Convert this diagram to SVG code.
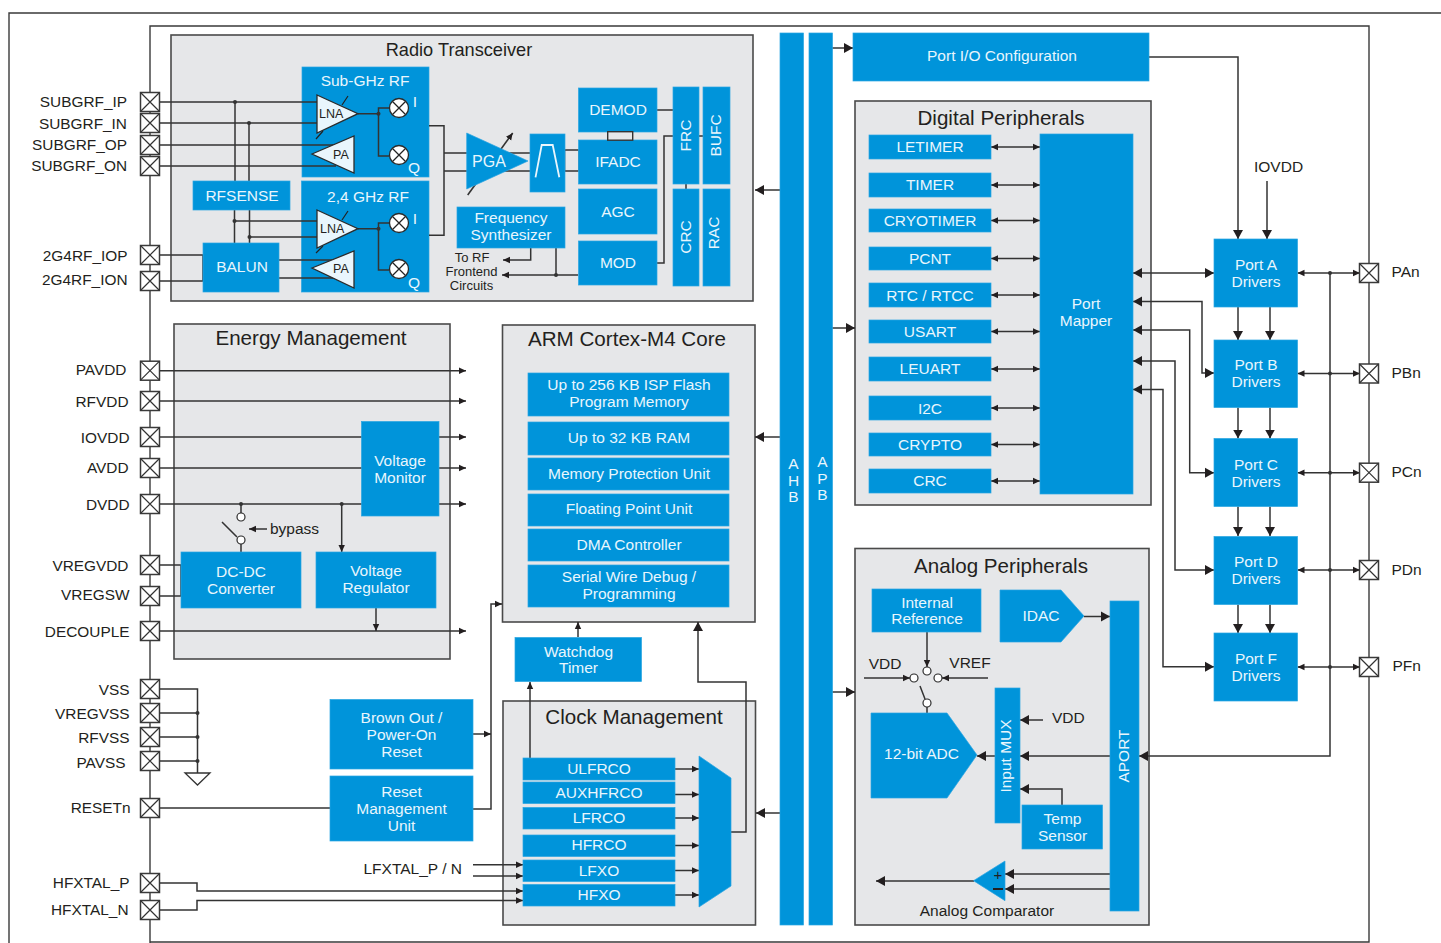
<svg xmlns="http://www.w3.org/2000/svg" xmlns:xlink="http://www.w3.org/1999/xlink" width="1441" height="943" viewBox="0 0 1441 943">
<style>
text{font-family:"Liberation Sans",Arial,sans-serif}
.bg{fill:#fff}
.frame{fill:none;stroke:#3a3a3a;stroke-width:1.4}
.panel{fill:#e6e7e9;stroke:#4a4a4a;stroke-width:1.6}
.b{fill:#0094da;stroke:#29a5e2;stroke-width:.7}
.t{fill:#e9f6fd;font-size:15.5px;text-anchor:middle}
.h{fill:#231f20;font-size:20.6px;text-anchor:middle}
.p{fill:#231f20;font-size:15.4px;text-anchor:end}
.s{fill:#231f20;font-size:15.5px}
.c{fill:none;stroke:#333;stroke-width:1.5}
.d{fill:#333}
.amp{fill:#e9f6fd;stroke:#2b2b2b;stroke-width:1.3}
.pad{fill:#fff;stroke:#3a3a3a;stroke-width:1.5}
.open{fill:#fff;stroke:#2b2b2b;stroke-width:1.2}
.wl{fill:none;stroke:#e9f6fd;stroke-width:1.8}
.a{marker-end:url(#as)}
.A{marker-end:url(#al)}
.aa{marker-start:url(#as);marker-end:url(#as)}
.AA{marker-start:url(#al);marker-end:url(#al)}
</style>
<defs>
<marker id="as" markerUnits="userSpaceOnUse" markerWidth="8" markerHeight="8" refX="7" refY="4" orient="auto-start-reverse"><path d="M0 .8L7 4L0 7.2z" fill="#231f20"/></marker>
<marker id="al" markerUnits="userSpaceOnUse" markerWidth="10" markerHeight="11" refX="9" refY="5.5" orient="auto-start-reverse"><path d="M0 .5L9 5.5L0 10.5z" fill="#231f20"/></marker>
<g id="x"><rect class="pad" x="-9.5" y="-9.5" width="19" height="19"/><path class="c" d="M-9.5-9.5L9.5 9.5M9.5-9.5L-9.5 9.5" style="stroke-width:1.2"/></g>
<g id="m"><circle r="9.5" fill="#fff" stroke="#2b2b2b" stroke-width="1.3"/><path d="M-6.5-6.5L6.5 6.5M6.5-6.5L-6.5 6.5" stroke="#222" stroke-width="1.3"/></g>
</defs>
<rect class="bg" width="1441" height="943"/>
<path class="frame" d="M1441 13H9V943"/>
<path class="frame" d="M150 943V26H1369V942H150"/>

<g id="panels">
<rect id="radio-panel" class="panel" x="171" y="35" width="582" height="266"/>
<rect id="energy-panel" class="panel" x="174" y="324" width="276" height="335"/>
<rect id="arm-panel" class="panel" x="502.500" y="325" width="252.500" height="297"/>
<rect id="clock-panel" class="panel" x="503" y="701" width="252.500" height="224"/>
<rect id="digital-panel" class="panel" x="855" y="101" width="296" height="404"/>
<rect id="analog-panel" class="panel" x="855" y="548.500" width="294" height="376.500"/>
<text class="h" x="459" y="56" style="font-size:18.200px">Radio Transceiver</text>
<text class="h" x="311" y="345">Energy Management</text>
<text class="h" x="627" y="346">ARM Cortex-M4 Core</text>
<text class="h" x="634" y="724">Clock Management</text>
<text class="h" x="1001" y="125">Digital Peripherals</text>
<text class="h" x="1001" y="573">Analog Peripherals</text>
</g>

<g id="rf-sub"><rect class="b" x="302" y="67" width="127" height="110"/><text class="t" x="365" y="86">Sub-GHz RF</text><text class="t" x="415" y="107">I</text><text class="t" x="414" y="173">Q</text></g>
<g id="rf-24"><rect class="b" x="301.500" y="181" width="127.500" height="111"/><text class="t" x="368" y="202">2,4 GHz RF</text><text class="t" x="415" y="224">I</text><text class="t" x="414" y="288">Q</text></g>

<g id="connectors">
<path class="c" d="M160 102H318M160 123H318M160 145H336M160 166H336"/>
<path class="c" d="M235 102V181M249 123V181M234.500 210V243M249.500 210V243M234.500 221H318M249.500 237H318"/>
<path class="c" d="M160 255H203V281H160M279 260H336M279 278H336"/>
<path class="c" d="M358 113.700H378.500M389 108H378.500V156H389M358 228.700H378.500M389 223H378.500V270H389"/>
<path class="c" d="M342 105L348 96M316 139L323 131M342 220L348 211M316 253L323 246" style="stroke-width:1.2;stroke:#222"/>
<path class="c" d="M429 125.700H444V235.300H429M444 153H530.500M444 171H530.500"/>
<path class="c a" d="M467.700 195L512.700 133" style="stroke-width:1.6"/>
<path class="c" d="M565 150H579M565 171H579"/>
<path class="c" d="M564.500 150V171M579 150V171"/>
<path class="c" d="M657 110H673M657 263H664V136H673M699 136H703M686 184V189"/>
<path class="c a" d="M530.700 248V260H503"/>
<path class="c a" d="M578 275H502"/>
<path class="c" d="M556 248V275"/>
<path class="c A" d="M780 190H755"/>
<path class="c A" d="M832 48H853"/>
<path class="c A" d="M832 328H855"/>
<path class="c A" d="M832 692H855"/>
<path class="c A" d="M780 437H755"/>
<path class="c A" d="M780 813H756"/>
<path class="c a" d="M160 370.700H466"/>
<path class="c a" d="M160 401H466"/>
<path class="c a" d="M160 437H466"/>
<path class="c a" d="M160 468H466"/>
<path class="c a" d="M160 504H466"/>
<path class="c a" d="M160 631H466"/>
<path class="c" d="M160 565H181V596H160"/>
<path class="c" d="M241 504V513M241 544V552M222 522L237 537"/>
<path class="c a" d="M267 529H249"/>
<path class="c a" d="M341.700 504V552"/>
<path class="c a" d="M376 608V631"/>
<path class="c" d="M160 689H197.500V773M160 713H197.500M160 737H197.500M160 761H197.500"/>
<path d="M185 773H210L197.500 785z" fill="#fff" stroke="#333" stroke-width="1.3"/>
<path class="c" d="M160 808H330"/>
<path class="c a" d="M473 809H491V604H502"/>
<path class="c a" d="M473 734H491"/>
<path class="c a" d="M473 864.700H523"/>
<path class="c a" d="M473 876H523"/>
<path class="c a" d="M160 883H197V891H523"/>
<path class="c a" d="M160 910H197V900.500H523"/>
<path class="c a" d="M675 769H699"/>
<path class="c a" d="M675 794.500H699"/>
<path class="c a" d="M675 818H699"/>
<path class="c a" d="M675 845.500H699"/>
<path class="c a" d="M675 870.500H699"/>
<path class="c a" d="M675 895H699"/>
<path class="c A" d="M731 832H746V682H698V622"/>
<path class="c a" d="M530 758V682"/>
<path class="c a" d="M578 637V622"/>
<path class="c aa" d="M991 147H1040"/>
<path class="c aa" d="M991 185H1040"/>
<path class="c aa" d="M991 220.500H1040"/>
<path class="c aa" d="M991 258.500H1040"/>
<path class="c aa" d="M991 295H1040"/>
<path class="c aa" d="M991 331.500H1040"/>
<path class="c aa" d="M991 369H1040"/>
<path class="c aa" d="M991 408H1040"/>
<path class="c aa" d="M991 444.500H1040"/>
<path class="c aa" d="M991 481H1040"/>
<path class="c A" d="M1149 57H1238V239"/>
<path class="c A" d="M1267 181V239"/>
<path class="c A" d="M1238 307V340"/>
<path class="c A" d="M1270 307V340"/>
<path class="c A" d="M1238 407.500V438.500"/>
<path class="c A" d="M1270 407.500V438.500"/>
<path class="c A" d="M1238 506.500V536"/>
<path class="c A" d="M1270 506.500V536"/>
<path class="c A" d="M1238 604.500V633"/>
<path class="c A" d="M1270 604.500V633"/>
<path class="c AA" d="M1133 273H1214"/>
<path class="c AA" d="M1133 301.500H1202V373H1214"/>
<path class="c AA" d="M1133 330H1189.700V472.700H1214"/>
<path class="c AA" d="M1133 361H1175V570H1214"/>
<path class="c AA" d="M1133 389.500H1163V666.700H1214"/>
<path class="c aa" d="M1297.500 273H1360"/>
<path class="c aa" d="M1297.500 373.500H1360"/>
<path class="c aa" d="M1297.500 472.700H1360"/>
<path class="c aa" d="M1297.500 570H1360"/>
<path class="c aa" d="M1297.500 667H1360"/>
<path class="c A" d="M1330 273V756H1139"/>
<path class="c a" d="M927 632V667"/>
<path class="c a" d="M864 678H910"/>
<path class="c a" d="M988 678H942"/>
<path class="c" d="M920 686L925 699M927 707V713"/>
<path class="c A" d="M1084 616.500H1110"/>
<path class="c A" d="M995 756H977"/>
<path class="c A" d="M1110 756H1020"/>
<path class="c A" d="M1043 720H1020"/>
<path class="c A" d="M1062 805V789H1020"/>
<path class="c A" d="M1110 874H1005"/>
<path class="c A" d="M1110 889H1005"/>
<path class="c A" d="M974 881H876"/>
<g class="d"><circle cx="235" cy="102" r="2"/><circle cx="249" cy="123" r="2"/><circle cx="234.500" cy="221" r="2"/><circle cx="249.500" cy="237" r="2"/><circle cx="378.500" cy="113.700" r="2"/><circle cx="378.500" cy="228.700" r="2"/><circle cx="556" cy="275" r="2"/><circle cx="241" cy="504" r="2"/><circle cx="341.700" cy="504" r="2"/><circle cx="197.500" cy="713" r="2"/><circle cx="197.500" cy="737" r="2"/><circle cx="197.500" cy="761" r="2"/><circle cx="1330" cy="273" r="2"/><circle cx="1330" cy="373.500" r="2"/><circle cx="1330" cy="472.700" r="2"/><circle cx="1330" cy="570" r="2"/><circle cx="1330" cy="667" r="2"/></g>
</g>

<g id="voltage-monitor"><rect class="b" x="361.500" y="421.500" width="77.500" height="94.500"/><text class="t" x="400" y="466">Voltage<tspan x="400" dy="17">Monitor</tspan></text></g>

<g id="radio-nodes">
<g id="lna1"><path class="amp" d="M317 95L358 113.700L317 133z"/><text x="319" y="118" style="font-size:12.500px;fill:#231f20">LNA</text></g>
<g id="pa1"><path class="amp" d="M312 154L354 136V173z"/><text x="333" y="159" style="font-size:12.500px;fill:#231f20">PA</text></g>
<g id="lna2"><path class="amp" d="M317 210L358 228.700L317 248z"/><text x="320" y="233" style="font-size:12.500px;fill:#231f20">LNA</text></g>
<g id="pa2"><path class="amp" d="M312 268L354 251V288z"/><text x="333" y="273" style="font-size:12.500px;fill:#231f20">PA</text></g>
<use href="#m" x="399" y="108"/><use href="#m" x="399" y="155"/><use href="#m" x="399" y="223"/><use href="#m" x="399" y="269"/>
<g id="rfsense"><rect class="b" x="193" y="181" width="97" height="29"/><text class="t" x="242" y="201">RFSENSE</text></g>
<g id="balun"><rect class="b" x="203" y="243" width="76" height="49"/><text class="t" x="242" y="272">BALUN</text></g>
<g id="pga"><path class="b" d="M466.700 133L528 161L466.700 189z"/><text class="t" x="489" y="167" style="font-size:16px">PGA</text></g>
<g id="filter"><rect class="b" x="530" y="134" width="35" height="58"/><path class="wl" d="M535.500 177.300L541.700 145H552.700L559.300 177.300"/></g>
<g id="demod"><rect class="b" x="578.500" y="88" width="78.500" height="44"/><text class="t" x="618" y="115">DEMOD</text></g>
<g id="ifadc"><rect class="b" x="578.500" y="140" width="78.500" height="44"/><text class="t" x="618" y="167">IFADC</text></g>
<rect x="607.700" y="131.700" width="25" height="8.500" fill="#e6e7e9" stroke="#333" stroke-width="1.400"/>
<g id="agc"><rect class="b" x="578.500" y="189" width="78.500" height="45"/><text class="t" x="618" y="217">AGC</text></g>
<g id="mod"><rect class="b" x="578.500" y="241" width="78.500" height="44"/><text class="t" x="618" y="268">MOD</text></g>
<g id="frc"><rect class="b" x="673" y="87" width="26" height="97"/><text class="t" transform="translate(691 135.500) rotate(-90)">FRC</text></g>
<g id="bufc"><rect class="b" x="703" y="87" width="27" height="97"/><text class="t" transform="translate(721 135.500) rotate(-90)">BUFC</text></g>
<g id="crc-r"><rect class="b" x="673" y="189" width="26" height="97"/><text class="t" transform="translate(691 237) rotate(-90)">CRC</text></g>
<g id="rac"><rect class="b" x="703" y="189" width="27" height="97"/><text class="t" transform="translate(719 233) rotate(-90)">RAC</text></g>
<g id="synth"><rect class="b" x="457" y="207" width="108" height="41"/><text class="t" x="511" y="223">Frequency<tspan x="511" dy="17">Synthesizer</tspan></text></g>
<text class="s" x="472" y="262" style="font-size:13px;text-anchor:middle">To RF<tspan x="471.500" dy="14">Frontend</tspan><tspan x="471.500" dy="14">Circuits</tspan></text>
</g>

<g id="energy-nodes">
<g id="dcdc"><rect class="b" x="181" y="552" width="120" height="56"/><text class="t" x="241" y="577">DC-DC<tspan x="241" dy="17">Converter</tspan></text></g>
<g id="vreg"><rect class="b" x="316" y="552" width="120" height="56"/><text class="t" x="376" y="576">Voltage<tspan x="376" dy="17">Regulator</tspan></text></g>
<circle class="open" cx="241" cy="517" r="4"/><circle class="open" cx="241" cy="540" r="4"/>
<text class="s" x="270" y="534">bypass</text>
</g>

<g id="arm-nodes">
<g id="flash"><rect class="b" x="528" y="373" width="201" height="43"/><text class="t" x="629" y="390">Up to 256 KB ISP Flash<tspan x="629" dy="17">Program Memory</tspan></text></g>
<g id="ram"><rect class="b" x="528" y="422" width="201" height="33"/><text class="t" x="629" y="443">Up to 32 KB RAM</text></g>
<g id="mpu"><rect class="b" x="528" y="458" width="201" height="32"/><text class="t" x="629" y="479">Memory Protection Unit</text></g>
<g id="fpu"><rect class="b" x="528" y="494" width="201" height="32"/><text class="t" x="629" y="514">Floating Point Unit</text></g>
<g id="dma"><rect class="b" x="528" y="529" width="201" height="32"/><text class="t" x="629" y="550">DMA Controller</text></g>
<g id="swd"><rect class="b" x="528" y="565" width="201" height="42"/><text class="t" x="629" y="582">Serial Wire Debug /<tspan x="629" dy="17">Programming</tspan></text></g>
<g id="watchdog"><rect class="b" x="515" y="637.500" width="126.500" height="44"/><text class="t" x="578.500" y="657">Watchdog<tspan x="578.500" dy="16">Timer</tspan></text></g>
</g>

<g id="reset-nodes">
<g id="brownout"><rect class="b" x="330" y="699.500" width="143" height="69.500"/><text class="t" x="401.500" y="723">Brown Out /<tspan x="401.500" dy="17">Power-On</tspan><tspan x="401.500" dy="17">Reset</tspan></text></g>
<g id="rmu"><rect class="b" x="330" y="776" width="143" height="65"/><text class="t" x="401.500" y="797">Reset<tspan x="401.500" dy="17">Management</tspan><tspan x="401.500" dy="17">Unit</tspan></text></g>
</g>

<g id="clock-nodes">
<g id="ulfrco"><rect class="b" x="523" y="758" width="152" height="22"/><text class="t" x="599" y="774">ULFRCO</text></g>
<g id="auxhfrco"><rect class="b" x="523" y="782" width="152" height="21.500"/><text class="t" x="599" y="798">AUXHFRCO</text></g>
<g id="lfrco"><rect class="b" x="523" y="807.500" width="152" height="21.500"/><text class="t" x="599" y="823">LFRCO</text></g>
<g id="hfrco"><rect class="b" x="523" y="835" width="152" height="21.500"/><text class="t" x="599" y="850">HFRCO</text></g>
<g id="lfxo"><rect class="b" x="523" y="860" width="152" height="21.500"/><text class="t" x="599" y="876">LFXO</text></g>
<g id="hfxo"><rect class="b" x="523" y="884.500" width="152" height="21.500"/><text class="t" x="599" y="900">HFXO</text></g>
<path id="mux" class="b" d="M699 756L731 778V886L699 907z"/>
<text class="s" x="462" y="874" style="text-anchor:end">LFXTAL_P / N</text>
</g>

<g id="buses">
<g id="ahb"><rect class="b" x="780" y="33" width="23.500" height="892"/><text class="t" x="793.500" y="469">A<tspan x="793.500" dy="16.500">H</tspan><tspan x="793.500" dy="16.500">B</tspan></text></g>
<g id="apb"><rect class="b" x="809" y="33" width="23.500" height="892"/><text class="t" x="822.500" y="467">A<tspan x="822.500" dy="16.500">P</tspan><tspan x="822.500" dy="16.500">B</tspan></text></g>
</g>

<g id="port-io"><rect class="b" x="853" y="33" width="296" height="48"/><text class="t" x="1002" y="61">Port I/O Configuration</text></g>

<g id="digital-nodes">
<g id="letimer"><rect class="b" x="869" y="135" width="122" height="24"/><text class="t" x="930" y="152">LETIMER</text></g>
<g id="timer"><rect class="b" x="869" y="173" width="122" height="24"/><text class="t" x="930" y="190">TIMER</text></g>
<g id="cryotimer"><rect class="b" x="869" y="209" width="122" height="23"/><text class="t" x="930" y="226">CRYOTIMER</text></g>
<g id="pcnt"><rect class="b" x="869" y="247" width="122" height="23"/><text class="t" x="930" y="264">PCNT</text></g>
<g id="rtc"><rect class="b" x="869" y="283" width="122" height="24"/><text class="t" x="930" y="301">RTC / RTCC</text></g>
<g id="usart"><rect class="b" x="869" y="320" width="122" height="23"/><text class="t" x="930" y="337">USART</text></g>
<g id="leuart"><rect class="b" x="869" y="357" width="122" height="24"/><text class="t" x="930" y="374">LEUART</text></g>
<g id="i2c"><rect class="b" x="869" y="396" width="122" height="24"/><text class="t" x="930" y="414">I2C</text></g>
<g id="crypto"><rect class="b" x="869" y="433" width="122" height="23"/><text class="t" x="930" y="450">CRYPTO</text></g>
<g id="crc-d"><rect class="b" x="869" y="469" width="122" height="24"/><text class="t" x="930" y="486">CRC</text></g>
<g id="port-mapper"><rect class="b" x="1040" y="134" width="93" height="360"/><text class="t" x="1086" y="309">Port<tspan x="1086" dy="17">Mapper</tspan></text></g>
</g>

<g id="port-nodes">
<g id="port-a"><rect class="b" x="1214" y="239" width="83.500" height="68"/><text class="t" x="1256" y="270">Port A<tspan x="1256" dy="17">Drivers</tspan></text></g>
<g id="port-b"><rect class="b" x="1214" y="340" width="83.500" height="67.500"/><text class="t" x="1256" y="370">Port B<tspan x="1256" dy="17">Drivers</tspan></text></g>
<g id="port-c"><rect class="b" x="1214" y="438.500" width="83.500" height="68"/><text class="t" x="1256" y="470">Port C<tspan x="1256" dy="17">Drivers</tspan></text></g>
<g id="port-d"><rect class="b" x="1214" y="536.500" width="83.500" height="68"/><text class="t" x="1256" y="567">Port D<tspan x="1256" dy="17">Drivers</tspan></text></g>
<g id="port-f"><rect class="b" x="1214" y="633" width="83.500" height="68"/><text class="t" x="1256" y="664">Port F<tspan x="1256" dy="17">Drivers</tspan></text></g>
<text class="s" x="1254" y="172">IOVDD</text>
</g>

<g id="analog-nodes">
<g id="intref"><rect class="b" x="872" y="589" width="109" height="43"/><text class="t" x="927" y="608">Internal<tspan x="927" dy="16">Reference</tspan></text></g>
<g id="idac"><path class="b" d="M1000 590H1061L1084 616L1061 642H1000z"/><text class="t" x="1041" y="621">IDAC</text></g>
<g id="aport"><rect class="b" x="1110" y="601" width="29" height="310"/><text class="t" transform="translate(1129 756) rotate(-90)">APORT</text></g>
<circle class="open" cx="914" cy="678" r="4"/><circle class="open" cx="927" cy="671" r="4"/><circle class="open" cx="938" cy="678" r="4"/><circle class="open" cx="927" cy="703" r="4"/>
<text class="s" x="885" y="669" style="text-anchor:middle">VDD</text><text class="s" x="970" y="668" style="text-anchor:middle">VREF</text>
<g id="adc"><path class="b" d="M871 713H947L977 755L947 798H871z"/><text class="t" x="921.500" y="759">12-bit ADC</text></g>
<g id="inmux"><rect class="b" x="995" y="688" width="25" height="135"/><text class="t" transform="translate(1011 756) rotate(-90)">Input MUX</text></g>
<text class="s" x="1052" y="723">VDD</text>
<g id="temp"><rect class="b" x="1022" y="805" width="80.500" height="44"/><text class="t" x="1062.500" y="824">Temp<tspan x="1062.500" dy="16.500">Sensor</tspan></text></g>
<g id="acmp"><path class="b" d="M973.500 880.700L1005 861V900.700z"/><text x="998" y="880" style="font-size:15px;fill:#231f20;text-anchor:middle">+</text><path d="M993 889H1003" stroke="#231f20" stroke-width="2"/></g>
<text class="s" x="987" y="916" style="text-anchor:middle">Analog Comparator</text>
</g>

<g id="pins">
<use href="#x" x="150" y="102"/><use href="#x" x="150" y="123"/><use href="#x" x="150" y="145"/><use href="#x" x="150" y="166"/><use href="#x" x="150" y="255"/><use href="#x" x="150" y="281"/>
<use href="#x" x="150" y="370.700"/><use href="#x" x="150" y="401"/><use href="#x" x="150" y="437"/><use href="#x" x="150" y="468"/><use href="#x" x="150" y="504"/><use href="#x" x="150" y="565"/><use href="#x" x="150" y="596"/><use href="#x" x="150" y="631"/>
<use href="#x" x="150" y="689"/><use href="#x" x="150" y="713"/><use href="#x" x="150" y="737"/><use href="#x" x="150" y="761"/><use href="#x" x="150" y="808"/><use href="#x" x="150" y="883"/><use href="#x" x="150" y="910"/>
<use href="#x" x="1369" y="273"/><use href="#x" x="1369" y="373.500"/><use href="#x" x="1369" y="472.700"/><use href="#x" x="1369" y="570"/><use href="#x" x="1369" y="667"/>
<text class="p" x="127" y="107">SUBGRF_IP</text><text class="p" x="127" y="129">SUBGRF_IN</text><text class="p" x="127" y="150">SUBGRF_OP</text><text class="p" x="127" y="171">SUBGRF_ON</text>
<text class="p" x="127.500" y="261">2G4RF_IOP</text><text class="p" x="127.500" y="285">2G4RF_ION</text>
<text class="p" x="126.500" y="375">PAVDD</text><text class="p" x="128.500" y="406.500">RFVDD</text><text class="p" x="129.500" y="443">IOVDD</text><text class="p" x="128.500" y="473">AVDD</text><text class="p" x="129.500" y="509.500">DVDD</text>
<text class="p" x="128.500" y="571">VREGVDD</text><text class="p" x="129.500" y="600">VREGSW</text><text class="p" x="129.500" y="637">DECOUPLE</text>
<text class="p" x="129.500" y="695">VSS</text><text class="p" x="129.500" y="719">VREGVSS</text><text class="p" x="129.500" y="742.500">RFVSS</text><text class="p" x="125.500" y="768">PAVSS</text><text class="p" x="130.500" y="813">RESETn</text>
<text class="p" x="129.500" y="888">HFXTAL_P</text><text class="p" x="128.500" y="915">HFXTAL_N</text>
<g style="font-size:15.5px;fill:#231f20"><text x="1391.500" y="277">PAn</text><text x="1391.500" y="378">PBn</text><text x="1391.500" y="477">PCn</text><text x="1391.500" y="575">PDn</text><text x="1392.500" y="671">PFn</text></g>
</g>
</svg>
